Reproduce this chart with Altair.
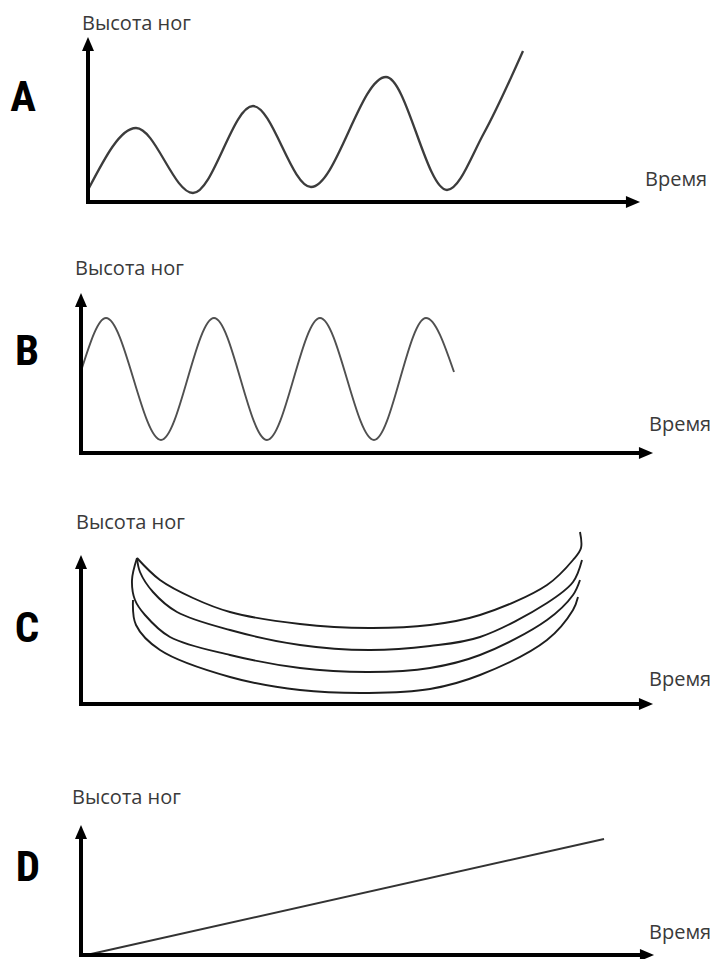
import altair as alt
import pandas as pd

# ---------------- data ----------------
# Panel A: growing oscillation
a_time = [1, 48, 105, 165, 223, 298, 359, 396, 435]
a_height = [14, 74, 9, 96, 15, 125, 12, 69, 151]

# Panel B: steady oscillation
b_time = [1, 25, 80, 133, 186, 239, 293, 345, 373]
b_height = [85, 135, 13, 135, 13, 135, 13, 135, 81]

# Panel C: four stacked arcs
c1_time = [56, 79, 112, 149, 219, 288, 349, 399, 466, 492, 500, 499]
c1_height = [146, 124, 106, 92, 80, 76, 79, 89, 119, 144, 156, 172]
c2_time = [56, 59, 72, 96, 149, 219, 288, 349, 399, 466, 492, 501]
c2_height = [146, 132, 112, 92, 74, 59, 54, 58, 67, 101, 122, 144]
c3_time = [56, 51, 54, 64, 89, 149, 219, 288, 349, 399, 466, 492, 499]
c3_height = [146, 124, 104, 89, 67, 49, 36, 32, 36, 49, 84, 109, 124]
c4_time = [52, 55, 79, 149, 219, 288, 349, 399, 466, 492, 497]
c4_height = [104, 79, 54, 27, 14, 11, 15, 29, 64, 94, 107]

# Panel D: straight rise
d_time = [10, 523]
d_height = [1, 116]

letters = ["A", "B", "C", "D"]
y_title = "Высота ног"
x_title = "Время"

# axis arrow tips (time / height units)
y_tips = [165, 160, 149, 130]
x_tips = [552, 572, 572, 573]

ARROW = "M1,0L-1,-0.85L-1,0.85Z"
LABEL_FONT = "Open Sans"
LETTER_FONT = "Liberation Sans Narrow, Roboto Condensed, Roboto"
PANEL_W = 704


def curve_df(series):
    rows = []
    for s, (ts, hs) in enumerate(series):
        for i, (t, h) in enumerate(zip(ts, hs)):
            rows.append({"t": t, "h": h, "s": s, "i": i})
    return pd.DataFrame(rows)


def panel(letter, curves, interp, xdom, ydom, y_tip, x_tip, height,
          ylab_xy, xlab_xy, letter_xy, color, width):
    xs = alt.Scale(domain=xdom, nice=False, zero=False)
    ys = alt.Scale(domain=ydom, nice=False, zero=False)

    axes = pd.DataFrame({
        "x": [0, -2], "x2": [0, x_tip - 10],
        "y": [-2, 0], "y2": [y_tip - 10, 0],
    })
    rules = alt.Chart(axes).mark_rule(color="black", strokeWidth=4).encode(
        x=alt.X("x:Q", scale=xs, axis=None),
        x2="x2:Q",
        y=alt.Y("y:Q", scale=ys, axis=None),
        y2="y2:Q",
    )
    heads = pd.DataFrame({"x": [0, x_tip - 7], "y": [y_tip - 7, 0], "a": [270, 0]})
    arrows = alt.Chart(heads).mark_point(
        shape=ARROW, filled=True, size=200, color="black", opacity=1, strokeWidth=0
    ).encode(
        x=alt.X("x:Q", scale=xs, axis=None),
        y=alt.Y("y:Q", scale=ys, axis=None),
        angle=alt.Angle("a:Q", scale=None),
    )
    line = alt.Chart(curve_df(curves)).mark_line(
        interpolate=interp, color=color, strokeWidth=width
    ).encode(
        x=alt.X("t:Q", scale=xs, axis=None),
        y=alt.Y("h:Q", scale=ys, axis=None),
        detail="s:N",
        order="i:Q",
    )
    lab = pd.DataFrame({"txt": [y_title]})
    ylab = alt.Chart(lab).mark_text(
        align="left", baseline="middle", font=LABEL_FONT, fontSize=20, color="#3a3a3a"
    ).encode(x=alt.value(ylab_xy[0]), y=alt.value(ylab_xy[1]), text="txt:N")
    lab2 = pd.DataFrame({"txt": [x_title]})
    xlab = alt.Chart(lab2).mark_text(
        align="left", baseline="middle", font=LABEL_FONT, fontSize=20, color="#3a3a3a"
    ).encode(x=alt.value(xlab_xy[0]), y=alt.value(xlab_xy[1]), text="txt:N")
    lab3 = pd.DataFrame({"txt": [letter]})
    let = alt.Chart(lab3).mark_text(
        align="center", baseline="middle", font=LETTER_FONT, fontWeight="bold",
        fontSize=43, color="black"
    ).encode(x=alt.value(letter_xy[0]), y=alt.value(letter_xy[1]), text="txt:N")

    return alt.layer(line, rules, arrows, ylab, xlab, let).properties(
        width=PANEL_W, height=height
    )


pA = panel(letters[0], [(a_time, a_height)], "monotone", [-80, 624], [-38, 194],
           y_tips[0], x_tips[0], 232, (74, 16), (637, 172), (15, 90), "#3c3c3c", 2.3)
pB = panel(letters[1], [(b_time, b_height)], "monotone", [-73, 631], [-35, 213],
           y_tips[1], x_tips[1], 248, (67, 29), (641, 185), (19, 112), "#505050", 1.9)
pC = panel(letters[2], [(c1_time, c1_height), (c2_time, c2_height),
                        (c3_time, c3_height), (c4_time, c4_height)],
           "catmull-rom", [-73, 631], [-38, 216],
           y_tips[2], x_tips[2], 254, (68, 35), (641, 192), (19, 141), "#1e1e1e", 1.9)
pD = panel(letters[3], [(d_time, d_height)], "linear", [-73, 631], [-4, 213],
           y_tips[3], x_tips[3], 217, (64, 56), (641, 191), (20, 126), "#333333", 2.0)

chart = alt.vconcat(pA, pB, pC, pD, spacing=0).properties(
    padding=0, background="white"
).configure_view(strokeWidth=0)

chart.save("out.html", embed_options={"renderer": "svg", "actions": False})
